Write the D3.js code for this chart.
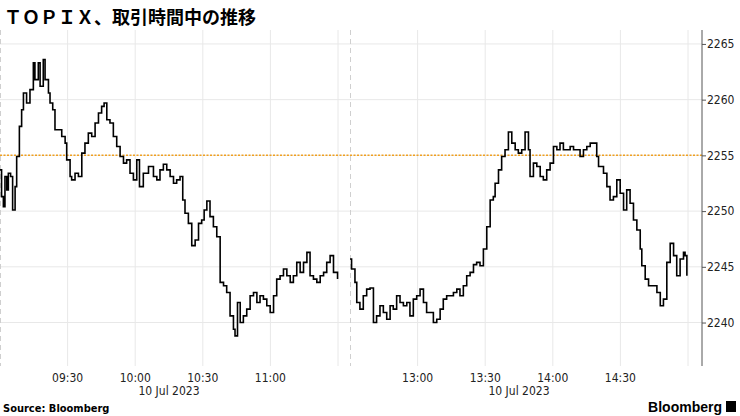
<!DOCTYPE html>
<html><head><meta charset="utf-8">
<script src="https://cdn.jsdelivr.net/npm/d3@7"></script>
<style>body{margin:0;background:#fff;font-family:"Liberation Sans",Arial,sans-serif}</style>
</head><body><svg id="c" width="740" height="416"></svg>
<script>
const title = "ＴＯＰＩＸ、取引時間中の推移";
// minutes after 9:00 (morning) and after 12:30 (afternoon)
const amMin = [0,0.7,1.5,2.2,3.0,3.7,4.7,5.6,6.7,7.4,8.6,9.6,10.4,11.8,13.3,14.8,15.5,17.0,17.8,19.2,20.0,21.5,22.2,23.4,24.4,25.9,27.4,28.9,29.6,31.1,31.8,33.3,34.8,36.3,37.7,39.2,40.7,42.2,43.7,45.1,46.2,47.4,48.8,50.3,51.8,53.3,54.8,56.2,57.7,59.2,60.7,61.9,63.6,65.9,68.1,69.6,71.0,72.5,74.0,75.5,77.0,78.4,79.9,81.1,82.1,83.6,85.1,86.6,88.1,89.5,90.6,91.8,93.2,94.7,96.2,97.7,99.2,100.6,102.1,103.6,104.3,105.4,106.6,108.0,109.5,111.0,112.5,114.0,115.4,116.9,118.4,119.9,121.4,122.8,124.3,125.8,127.3,128.8,130.2,131.7,133.2,134.7,136.2,137.6,139.1,140.6,142.1,143.6,145.0,146.5,148.0,149.8];
const amVal = [2253.7,2251.3,2250.4,2253.1,2251.9,2253.4,2253.1,2250.1,2252.2,2254.9,2257.6,2259.1,2260.6,2259.7,2260.9,2263.3,2261.8,2263.3,2261.2,2263.6,2261.8,2260.6,2259.7,2259.1,2257.3,2257.3,2256.7,2256.1,2254.6,2253.1,2252.8,2253.4,2253.1,2255.2,2256.1,2257.0,2256.7,2257.9,2258.8,2259.4,2259.7,2258.2,2257.9,2256.7,2255.8,2254.9,2254.3,2254.6,2253.4,2252.8,2254.6,2252.2,2253.4,2254.0,2253.1,2252.8,2253.7,2254.2,2253.7,2253.1,2252.5,2252.8,2253.1,2251.0,2249.8,2248.9,2246.9,2247.4,2248.9,2249.2,2250.1,2250.9,2249.5,2248.6,2247.7,2243.6,2243.3,2242.7,2240.6,2239.4,2238.8,2241.8,2240.0,2240.6,2241.2,2242.4,2242.7,2241.8,2242.4,2242.1,2241.5,2240.9,2242.4,2243.9,2244.2,2244.8,2244.2,2243.6,2244.2,2245.4,2244.5,2245.4,2246.3,2244.2,2243.9,2243.6,2244.2,2244.5,2245.4,2246.0,2244.5,2243.9];
const pmMin = [0,0.7,2.2,3.0,4.4,5.9,7.4,8.9,10.4,11.8,13.3,14.8,16.3,17.8,19.2,20.7,22.2,23.7,25.2,26.6,28.1,29.6,31.1,32.6,34.0,35.5,37.0,38.5,40.0,41.4,42.9,44.4,45.9,47.4,48.8,50.3,51.8,53.3,54.8,56.2,57.7,59.2,60.7,62.2,63.6,64.4,65.9,67.3,68.8,70.3,71.8,73.3,74.7,76.2,77.7,79.2,79.9,81.4,82.9,84.4,85.8,87.3,88.8,90.3,91.8,93.2,94.7,96.2,97.7,99.2,100.6,102.1,103.6,105.1,106.6,108.0,109.5,110.3,112.5,114.0,115.4,116.9,118.4,119.9,121.4,122.8,124.3,125.8,127.3,128.8,129.5,131.0,132.5,134.7,136.2,137.7,139.1,140.6,142.1,143.6,145.0,146.5,148.0,148.7,149.5];
const pmVal = [2245.7,2244.8,2243.6,2241.8,2241.2,2242.4,2243.0,2243.1,2240.0,2240.6,2241.5,2240.9,2240.3,2241.5,2241.2,2242.4,2241.8,2241.5,2241.8,2240.6,2242.1,2242.4,2243.0,2241.8,2240.9,2240.9,2240.0,2240.3,2241.2,2242.1,2242.4,2242.4,2242.7,2243.0,2242.4,2243.3,2244.2,2244.5,2245.2,2245.4,2245.1,2246.6,2248.6,2251.0,2251.3,2252.5,2253.7,2254.9,2255.5,2257.1,2256.1,2255.5,2255.2,2255.5,2257.1,2255.5,2253.1,2254.3,2254.0,2253.1,2252.8,2253.7,2254.3,2255.8,2255.5,2256.1,2255.5,2255.5,2255.8,2255.5,2255.5,2254.9,2255.5,2255.8,2256.1,2256.1,2254.9,2254.0,2253.4,2252.2,2251.0,2251.3,2252.8,2251.6,2250.1,2251.9,2250.7,2249.2,2248.3,2246.6,2245.1,2243.9,2243.3,2243.3,2242.7,2241.5,2242.1,2245.4,2247.1,2246.0,2244.2,2245.7,2246.3,2246.0,2244.2];
const refLevel = 2255;
const yTicks = [2240,2245,2250,2255,2260,2265];
const xTickMin = [570,600,630,660,780,810,840,870];
const xTickLabels = ["09:30","10:00","10:30","11:00","13:00","13:30","14:00","14:30"];
const dateLabel = "10 Jul 2023";

const svg = d3.select("#c");
const x = d3.scaleLinear().domain([540,690,750,900]).range([0,338,350,688]);
const y = d3.scaleLinear().domain([2236.1,2266.25]).range([366,30]);
const pTop=30,pBot=366,axX=702;

svg.append("text").attr("x",4).attr("y",24).attr("font-size",18).attr("font-weight","bold")
  .attr("font-family","'Noto Sans CJK JP',sans-serif").attr("fill","#000").text(title);

const g=svg.append("g");
yTicks.forEach(v=>g.append("line").attr("x1",0).attr("x2",axX).attr("y1",y(v)).attr("y2",y(v)).attr("stroke","#e8e8e8"));
xTickMin.concat([690,900]).forEach(m=>g.append("line").attr("x1",x(m)).attr("x2",x(m)).attr("y1",pTop).attr("y2",pBot).attr("stroke","#e8e8e8"));
[540,750].forEach(m=>g.append("line").attr("x1",x(m)+0.5).attr("x2",x(m)+0.5).attr("y1",pTop).attr("y2",pBot).attr("stroke","#cfcfcf").attr("stroke-dasharray","5,4"));

g.append("line").attr("x1",0).attr("x2",axX).attr("y1",y(refLevel)).attr("y2",y(refLevel))
  .attr("stroke","#f0a020").attr("stroke-width",1.5).attr("stroke-dasharray","2,1.5");

const line=d3.line().x(d=>x(d[0])).y(d=>y(d[1])).curve(d3.curveStepAfter);
const am=amMin.map((m,i)=>[540+m,amVal[i]]);
const pm=pmMin.map((m,i)=>[750+m,pmVal[i]]);
[am,pm].forEach(s=>g.append("path").attr("d",line(s)).attr("fill","none").attr("stroke","#000").attr("stroke-width",1.6));

const ax=svg.append("g").attr("transform",`translate(${axX},0)`).call(d3.axisRight(y).tickValues(yTicks).tickSize(4).tickFormat(d3.format("d")));
ax.select(".domain").attr("d",`M0,${pTop}V${pBot}`).attr("stroke","#555");
ax.selectAll("text").attr("font-size",12).attr("fill","#222").attr("font-family","'DejaVu Sans Condensed','DejaVu Sans',sans-serif").attr("x",5);
ax.selectAll(".tick line").attr("stroke","#555");

xTickMin.forEach((m,i)=>svg.append("text").attr("x",x(m)).attr("y",382).attr("text-anchor","middle").attr("font-size",12)
  .attr("font-family","'DejaVu Sans Condensed','DejaVu Sans',sans-serif").attr("fill","#222").text(xTickLabels[i]));
[615,825].forEach(m=>svg.append("text").attr("x",x(m)).attr("y",395).attr("text-anchor","middle").attr("font-size",12)
  .attr("font-family","'DejaVu Sans Condensed','DejaVu Sans',sans-serif").attr("fill","#222").text(dateLabel));

svg.append("text").attr("x",3).attr("y",412).attr("font-size",11).attr("font-weight","bold")
  .attr("font-family","'DejaVu Sans Condensed','DejaVu Sans',sans-serif").attr("fill","#000").text("Source: Bloomberg");
svg.append("text").attr("x",722).attr("y",412).attr("text-anchor","end").attr("font-size",14).attr("font-weight","bold")
  .attr("font-family","'Liberation Sans Narrow','Liberation Sans',sans-serif").attr("fill","#000").text("Bloomberg");
svg.append("rect").attr("x",726).attr("y",401).attr("width",10).attr("height",11).attr("fill","#000");
</script></body></html>
